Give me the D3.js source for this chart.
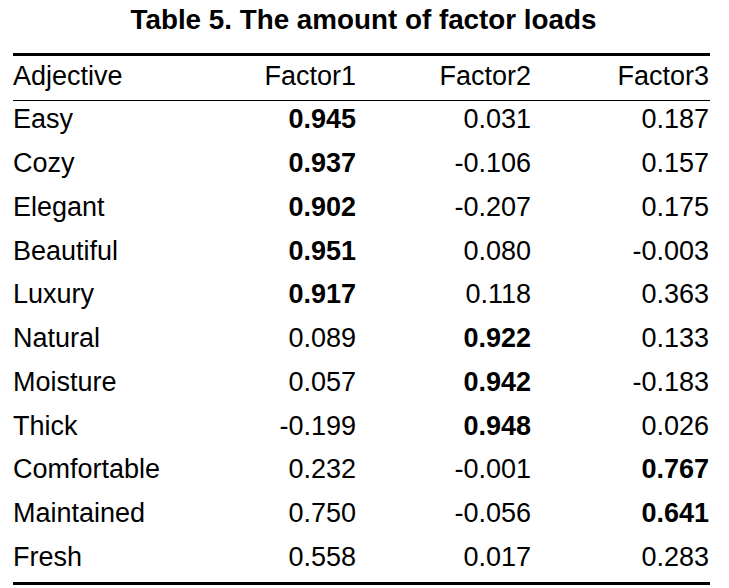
<!DOCTYPE html>
<html>
<head>
<meta charset="utf-8">
<script src="https://cdn.jsdelivr.net/npm/d3@7"></script>
<style>
  html, body { margin: 0; padding: 0; background: #fff; }
  svg { display: block; }
  text { font-family: "Liberation Sans", Arial, sans-serif; fill: #000; }
</style>
</head>
<body>
<svg id="chart" width="729" height="588"></svg>
<script>
const title = "Table 5. The amount of factor loads";
const headers = ["Adjective", "Factor1", "Factor2", "Factor3"];
const adjectives = ["Easy", "Cozy", "Elegant", "Beautiful", "Luxury", "Natural", "Moisture", "Thick", "Comfortable", "Maintained", "Fresh"];
const factor1 = ["0.945", "0.937", "0.902", "0.951", "0.917", "0.089", "0.057", "-0.199", "0.232", "0.750", "0.558"];
const factor2 = ["0.031", "-0.106", "-0.207", "0.080", "0.118", "0.922", "0.942", "0.948", "-0.001", "-0.056", "0.017"];
const factor3 = ["0.187", "0.157", "0.175", "-0.003", "0.363", "0.133", "-0.183", "0.026", "0.767", "0.641", "0.283"];
// which factor column is highlighted (bold) for each adjective; 0 = none
const boldFactor = [1, 1, 1, 1, 1, 2, 2, 2, 3, 3, 0];

const svg = d3.select("#chart");

// title
svg.append("text")
  .attr("x", 363.5)
  .attr("y", 29)
  .attr("text-anchor", "middle")
  .style("font-weight", "bold")
  .style("font-size", "27.8px")
  .text(title);

// column anchor scale (right edges for factor columns, left edge for adjective)
const colX = d3.scaleOrdinal().domain(headers).range([13, 356, 531, 709]);
const colAnchor = h => h === "Adjective" ? "start" : "end";

// row scale (baselines)
const rowKeys = ["__header"].concat(adjectives);
const rowY = d3.scalePoint().domain(rowKeys).range([84.5, 566]);

const fontSize = "27px";

// rules
const x0 = 13, x1 = 710;
svg.append("line").attr("x1", x0).attr("x2", x1).attr("y1", 54.5).attr("y2", 54.5)
  .attr("stroke", "#000").attr("stroke-width", 3);
svg.append("line").attr("x1", x0).attr("x2", x1).attr("y1", 100.5).attr("y2", 100.5)
  .attr("stroke", "#000").attr("stroke-width", 1.2);
svg.append("line").attr("x1", x0).attr("x2", x1).attr("y1", 583.5).attr("y2", 583.5)
  .attr("stroke", "#000").attr("stroke-width", 3);

// header
svg.append("g").selectAll("text").data(headers).join("text")
  .attr("x", d => colX(d))
  .attr("y", rowY("__header"))
  .attr("text-anchor", d => colAnchor(d))
  .style("font-size", fontSize)
  .text(d => d);

// body rows
const rows = adjectives.map((a, i) => ({
  key: a,
  cells: [
    { col: "Adjective", v: a, bold: false },
    { col: "Factor1", v: factor1[i], bold: boldFactor[i] === 1 },
    { col: "Factor2", v: factor2[i], bold: boldFactor[i] === 2 },
    { col: "Factor3", v: factor3[i], bold: boldFactor[i] === 3 }
  ]
}));

const rowG = svg.append("g").selectAll("g").data(rows).join("g")
  .attr("transform", d => `translate(0,${rowY(d.key)})`);

rowG.selectAll("text").data(d => d.cells).join("text")
  .attr("x", d => colX(d.col))
  .attr("y", 0)
  .attr("text-anchor", d => colAnchor(d.col))
  .style("font-size", fontSize)
  .style("font-weight", d => d.bold ? "bold" : "normal")
  .text(d => d.v);
</script>
</body>
</html>
